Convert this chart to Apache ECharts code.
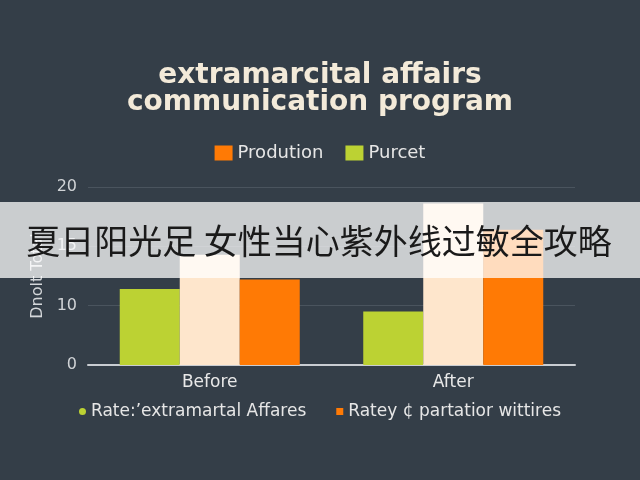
<!DOCTYPE html>
<html>
<head>
<meta charset="utf-8">
<script src="https://cdn.jsdelivr.net/npm/echarts@6/dist/echarts.min.js"></script>
<style>html,body{margin:0;padding:0;background:#343e48;}#c{width:640px;height:480px;}</style>
</head>
<body>
<div id="c"></div>
<script>
const categories = ['Before', 'After'];
const purcet = [11.4, 9.0];      // green
const base = [14.3, 18.6];       // cream
const prodution = [12.2, 16.4];  // orange
const tickValues = [0, 10, 15, 20];
const tickLabels = ['0', '10', '15', '20'];
const titleText = 'extramarcital affairs\ncommunication program';
const yName = 'Dnolt Total';
const bannerText = '夏日阳光足 女性当心紫外线过敏全攻略';
const bottomNames = ['Rate:\u2019extramartal Affares', 'Ratey \u00a2 partatior wittires'];

// piecewise scale matching the reference's uneven tick spacing
function toAxis(v) {
  for (let i = 0; i < tickValues.length - 1; i++) {
    if (v <= tickValues[i + 1]) {
      return i + (v - tickValues[i]) / (tickValues[i + 1] - tickValues[i]);
    }
  }
  return tickValues.length - 1;
}

const chart = echarts.init(document.getElementById('c'));
const GREEN = '#bcd233', CREAM = '#fee6cc', ORANGE = '#ff7a05';
const FONT = 'DejaVu Sans';
chart.setOption({
  backgroundColor: '#343e48',
  animation: false,
  title: {
    text: titleText,
    left: 'center',
    top: 57,
    textStyle: { color: '#f3ead9', fontSize: 28, lineHeight: 27, fontWeight: 'bold', fontFamily: FONT }
  },
  legend: [
    {
      data: ['Prodution', 'Purcet'],
      top: 139, left: 'center',
      icon: 'rect', itemWidth: 18, itemHeight: 15, itemGap: 22,
      textStyle: { color: '#e6e6e6', fontSize: 18, fontFamily: FONT }
    },
    {
      data: [{ name: bottomNames[0], icon: 'circle' }, { name: bottomNames[1], icon: 'rect' }],
      top: 398, left: 'center',
      itemWidth: 7, itemHeight: 7, itemGap: 30,
      textStyle: { color: '#e6e6e6', fontSize: 17, fontFamily: FONT }
    }
  ],
  grid: { left: 88, right: 65, top: 187, bottom: 115 },
  xAxis: {
    type: 'category',
    data: categories,
    axisLine: { lineStyle: { color: '#c9cdd2', width: 2 } },
    axisTick: { show: false },
    axisLabel: { color: '#e8e8e8', fontSize: 17, margin: 9, fontFamily: FONT }
  },
  yAxis: {
    type: 'value',
    min: 0, max: tickValues.length - 1, interval: 1,
    name: yName,
    nameLocation: 'middle',
    nameGap: 42,
    nameTextStyle: { color: '#d4d7da', fontSize: 16, fontFamily: FONT },
    axisLine: { show: false },
    axisTick: { show: false },
    splitLine: { lineStyle: { color: '#4a545e', width: 1 } },
    axisLabel: {
      color: '#d0d3d6', fontSize: 16, margin: 11, fontFamily: FONT,
      formatter: v => tickLabels[Math.round(v)]
    }
  },
  series: [
    { name: 'Purcet', type: 'bar', barWidth: 60, barGap: '0%', itemStyle: { color: GREEN }, data: purcet.map(toAxis) },
    { name: 'Base', type: 'bar', barWidth: 60, barGap: '0%', itemStyle: { color: CREAM }, data: base.map(toAxis) },
    { name: 'Prodution', type: 'bar', barWidth: 60, barGap: '0%', itemStyle: { color: ORANGE }, data: prodution.map(toAxis) },
    { name: bottomNames[0], type: 'line', data: [], itemStyle: { color: GREEN } },
    { name: bottomNames[1], type: 'line', data: [], itemStyle: { color: ORANGE } }
  ],
  graphic: [
    { type: 'rect', z: 100, shape: { x: 0, y: 202, width: 640, height: 76 }, style: { fill: 'rgba(255,255,255,0.74)' } },
    { type: 'text', z: 101, x: 319, y: 241,
      style: { text: bannerText, fill: '#1a1a1a', font: '34px "Noto Sans CJK SC"', textAlign: 'center', textVerticalAlign: 'middle' } }
  ]
});
</script>
</body>
</html>
